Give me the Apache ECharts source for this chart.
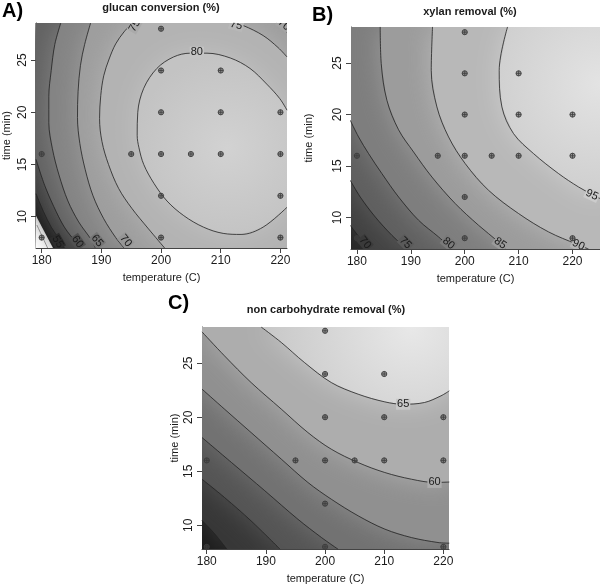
<!DOCTYPE html>
<html>
<head>
<meta charset="utf-8">
<script src="https://cdn.jsdelivr.net/npm/echarts@6.0.0/dist/echarts.min.js"></script>
<style>
  html, body { margin: 0; padding: 0; background: #fff; }
  #chart { width: 600px; height: 586px; }
</style>
</head>
<body>
<div id="chart"></div>
<script>
// tick labels
const tempTicks = [180, 190, 200, 210, 220]
const timeTicks = [10, 15, 20, 25]

// design points [temperature (C), time (min)]
const pointsA = [[200, 28], [200, 24], [210, 24], [200, 20], [210, 20], [220, 20], [180, 16], [195, 16], [200, 16], [205, 16], [210, 16], [220, 16], [200, 12], [220, 12], [200, 8], [220, 8], [180, 8]]
const pointsB = [[200, 28], [200, 24], [210, 24], [200, 20], [210, 20], [220, 20], [180, 16], [195, 16], [200, 16], [205, 16], [210, 16], [220, 16], [200, 12], [200, 8], [220, 8], [180, 8]]
const pointsC = [[200, 28], [200, 24], [210, 24], [200, 20], [210, 20], [220, 20], [180, 16], [195, 16], [200, 16], [205, 16], [210, 16], [220, 16], [200, 12], [200, 8], [220, 8], [180, 8]]

// contour lines, [temperature, time]
// A) glucan conversion
const glucan80 = [[221.1, 20.2], [219.9, 21.3], [217.7, 22.7], [214.9, 24.2], [211.6, 25.2], [207.7, 25.66], [204.9, 25.66], [202.1, 25.3], [199.3, 24.2], [197.1, 22.3], [196.1, 20.0], [196.0, 17.8], [196.3, 16.6], [197.1, 15.0], [198.8, 13.2], [201.0, 11.5], [203.8, 10.1], [207.1, 9.0], [210.4, 8.4], [213.4, 8.3], [217.1, 9.0], [221.1, 10.9]]
const glucan75 = [[195.2, 28.55], [193.8, 27.7], [192.4, 26.55], [191.3, 25.1], [190.4, 23.5], [189.9, 21.6], [189.7, 19.4], [190.1, 17.2], [191.2, 15.0], [192.9, 12.7], [195.1, 10.8], [197.8, 8.9], [200.6, 7.0]]
const glucan75b = [[212.1, 28.55], [213.8, 28.3], [217.1, 27.35], [219.6, 26.2], [221.1, 25.3]]
const glucan70 = [[188.2, 28.55], [187.2, 26.5], [186.5, 24.5], [186.1, 22.0], [186.0, 19.5], [186.4, 17.0], [187.3, 14.5], [188.6, 12.0], [190.4, 9.8], [192.4, 8.0], [193.8, 7.0]]
const glucan70b = [[219.4, 28.55], [221.1, 27.6]]
const glucan65 = [[183.2, 28.55], [182.2, 26.5], [181.6, 24.0], [181.2, 21.5], [181.2, 19.0], [181.8, 16.5], [182.9, 14.0], [184.4, 11.5], [186.2, 9.5], [188.3, 7.8], [189.0, 7.0]]
const glucan60 = [[179.05, 15.5], [180.5, 13.0], [182.0, 11.0], [183.8, 9.0], [185.8, 7.5], [186.5, 7.0]]
const glucan55 = [[179.05, 12.2], [180.3, 10.5], [181.6, 9.0], [183.0, 7.8], [183.8, 7.0]]
const glucan50 = [[179.2, 9.2], [181.0, 7.0]]
const glucanLow = [[179.05, 10.1], [181.9, 7.0], [179.05, 7.0]]

// B) xylan removal
const xylan70 = [[178.76, 9.25], [180.3, 8.18], [182.16, 6.95]]
const xylan75 = [[178.76, 13.62], [180.61, 12.0], [183.4, 10.06], [186.49, 8.28], [189.27, 6.95]]
const xylan80 = [[178.76, 19.45], [180.3, 17.83], [182.16, 16.21], [184.63, 14.27], [187.73, 12.0], [191.44, 9.74], [195.15, 8.12], [197.62, 6.95]]
const xylan85 = [[184.32, 28.51], [184.51, 24.95], [185.56, 21.39], [187.73, 18.52], [190.51, 16.37], [193.91, 13.94], [198.24, 11.36], [202.57, 9.25], [206.28, 7.63], [207.51, 6.95]]
const xylan90 = [[194.03, 28.51], [193.79, 24.3], [194.84, 20.74], [197.0, 17.83], [200.09, 15.24], [204.42, 12.65], [209.99, 10.39], [215.55, 8.61], [220.81, 7.41], [222.97, 6.95]]
const xylan95 = [[207.95, 28.51], [206.4, 24.3], [206.9, 20.74], [209.06, 18.15], [212.77, 16.21], [217.41, 14.27], [221.12, 12.97], [223.59, 12.26], [225.14, 11.84]]

// C) non carbohydrate removal
const nonCarb65 = [[189.2, 28.35], [192.6, 26.92], [196.5, 25.07], [201.05, 23.21], [205.6, 22.13], [210.1, 21.42], [213.2, 21.2], [216.8, 21.36], [219.6, 21.98], [221.0, 22.44]]
const nonCarb60 = [[179.2, 27.9], [183.0, 25.68], [187.5, 23.21], [192.6, 20.75], [197.1, 18.58], [201.05, 17.04], [205.6, 15.8], [210.1, 14.88], [214.6, 14.26], [218.5, 13.96], [221.0, 14.0]]
const nonCarb55 = [[179.2, 22.6], [183.0, 20.75], [187.5, 18.58], [192.6, 16.12], [197.1, 13.96], [201.05, 12.41], [205.6, 10.87], [210.1, 9.64], [214.6, 8.86], [219.1, 8.4], [221.0, 8.34]]
const nonCarb50 = [[179.2, 18.12], [184.2, 15.8], [189.8, 13.2], [195.4, 10.56], [199.4, 8.86], [202.2, 7.78]]
const nonCarb45 = [[179.2, 14.26], [183.0, 12.57], [187.5, 10.4], [192.4, 7.78]]
const nonCarb40 = [[179.2, 10.44], [181.4, 9.17], [183.4, 7.78]]

// contour labels [temperature, time, text]
const labelsA = [[206.0, 25.76, '80'], [195.6, 28.3, '75'], [212.6, 28.35, '75'], [220.6, 28.4, '70'], [182.7, 7.6, '55'], [186.0, 7.6, '60'], [189.3, 7.7, '65'], [194.1, 7.7, '70']]
const labelsB = [[181.5, 7.55, '70'], [189.0, 7.55, '75'], [197.0, 7.5, '80'], [206.6, 7.5, '85'], [221.1, 7.35, '90'], [223.6, 12.2, '95']]
const labelsC = [[213.2, 21.2, '65'], [218.5, 13.96, '60']]

const panels = [
  {
    title: 'glucan conversion (%)', tag: 'A)', titleX: 161, titleY: 8, tagX: 2, tagY: 11,
    grid: { left: 35, top: 23, width: 252, height: 225 },
    x: [179.05, 221.1], y: [7.0, 28.55], yNameGap: 24,
    points: pointsA,
    lines: [glucan80, glucan75, glucan75b, glucan70, glucan70b, glucan65, glucan60, glucan55],
    extraLines: [glucan50],
    labels: labelsA,
    labelRot: [0, 60, -15, -40, -60, -55, -50, -50],
    labelBg: ['#c4c4c4', '#aaaaaa', '#b8b8b8', '#a4a4a4', '#2c2c2c', '#505050', '#767676', '#969696'],
    bands: function (c) {
      return [
        { color: '#1a1a1a', ring: [c.bl, c.br, c.tr, c.tl] },
        { color: '#ffffff', ring: glucanLow, flat: true },
        { color: '#3b3b3b', ring: glucan55.concat([c.br, c.tr, c.tl]) },
        { color: '#626262', ring: glucan60.concat([c.br, c.tr, c.tl]) },
        { color: '#848484', ring: glucan65.concat([c.br, c.tr]) },
        { color: '#9e9e9e', ring: glucan70.concat([c.br], glucan70b.slice().reverse()) },
        { color: '#b3b3b3', ring: glucan75.concat([c.br], glucan75b.slice().reverse()) },
        { color: '#c3c3c3', ring: glucan80, inner: { x: 0.6, y: 0.52, r: 0.62, from: '#d2d2d2' } }
      ]
    }
  },
  {
    title: 'xylan removal (%)', tag: 'B)', titleX: 470, titleY: 12, tagX: 312, tagY: 15,
    grid: { left: 351, top: 27, width: 249, height: 222 },
    x: [178.9, 225.1], y: [6.95, 28.5], yNameGap: 37,
    points: pointsB,
    lines: [xylan70, xylan75, xylan80, xylan85, xylan90, xylan95],
    extraLines: [],
    labels: labelsB,
    labelRot: [-50, -45, -40, -35, -25, -25],
    labelBg: ['#3a3a3a', '#5a5a5a', '#7a7a7a', '#9a9a9a', '#b6b6b6', '#cccccc'],
    bands: function (c) {
      return [
        { color: '#242424', ring: [c.bl, c.br, c.tr, c.tl] },
        { color: '#424242', ring: xylan70.concat([c.br, c.tr, c.tl]) },
        { color: '#606060', ring: xylan75.concat([c.br, c.tr, c.tl]) },
        { color: '#7e7e7e', ring: xylan80.concat([c.br, c.tr, c.tl]) },
        { color: '#9c9c9c', ring: xylan85.concat([c.br, c.tr]) },
        { color: '#b8b8b8', ring: xylan90.concat([c.br, c.tr]) },
        { color: '#cecece', ring: xylan95.concat([c.tr]), inner: { x: 1.0, y: 0.33, r: 1.15, from: '#e3e3e3' } }
      ]
    }
  },
  {
    title: 'non carbohydrate removal (%)', tag: 'C)', titleX: 326, titleY: 310, tagX: 168, tagY: 303,
    grid: { left: 202, top: 327, width: 247, height: 222 },
    x: [179.2, 220.95], y: [7.8, 28.35], yNameGap: 22,
    points: pointsC,
    lines: [nonCarb65, nonCarb60, nonCarb55, nonCarb50, nonCarb45, nonCarb40],
    extraLines: [],
    labels: labelsC,
    labelRot: [0, 0],
    labelBg: ['#c8c8c8', '#acacac'],
    bands: function (c) {
      return [
        { color: '#1c1c1c', ring: [c.bl, c.br, c.tr, c.tl] },
        { color: '#383838', ring: nonCarb40.concat([c.br, c.tr, c.tl]) },
        { color: '#555555', ring: nonCarb45.concat([c.br, c.tr, c.tl]) },
        { color: '#727272', ring: nonCarb50.concat([c.br, c.tr, c.tl]) },
        { color: '#909090', ring: nonCarb55.concat([c.tr, c.tl]) },
        { color: '#adadad', ring: nonCarb60.concat([c.tr, c.tl]) },
        { color: '#c8c8c8', ring: nonCarb65.concat([c.tr]), inner: { x: 0.8, y: 0.0, r: 1.9, from: '#e8e8e8' } }
      ]
    }
  }
]

const textColor = '#1a1a1a'
const fontName = '"Liberation Sans", Arial, sans-serif'

const grids = []
const xAxes = []
const yAxes = []
const series = []
const graphics = []

panels.forEach((p, i) => {
  const corners = {
    bl: [p.x[0], p.y[0]], br: [p.x[1], p.y[0]],
    tr: [p.x[1], p.y[1]], tl: [p.x[0], p.y[1]]
  }
  grids.push(Object.assign({ containLabel: false }, p.grid))
  xAxes.push({
    type: 'value', gridIndex: i, min: p.x[0], max: p.x[1],
    name: 'temperature (C)', nameLocation: 'middle', nameGap: 24,
    nameTextStyle: { color: textColor, fontSize: 11, fontFamily: fontName },
    axisLine: { show: true, lineStyle: { color: '#444', width: 1 } },
    axisTick: { show: true, length: 5, customValues: tempTicks, lineStyle: { color: '#444' } },
    axisLabel: { customValues: tempTicks, color: textColor, fontSize: 12, fontFamily: fontName, margin: 7 },
    splitLine: { show: false }
  })
  yAxes.push({
    type: 'value', gridIndex: i, min: p.y[0], max: p.y[1],
    name: 'time (min)', nameLocation: 'middle', nameGap: p.yNameGap,
    nameTextStyle: { color: textColor, fontSize: 11, fontFamily: fontName },
    axisLine: { show: true, lineStyle: { color: '#444', width: 1 } },
    axisTick: { show: true, length: 5, customValues: timeTicks, lineStyle: { color: '#444' } },
    axisLabel: { customValues: timeTicks, rotate: 90, color: textColor, fontSize: 12, fontFamily: fontName, margin: 7 },
    splitLine: { show: false }
  })

  // filled contour bands; the soft shadow of each band blends it into the one below
  const bands = p.bands(corners)
  series.push({
    type: 'custom', xAxisIndex: i, yAxisIndex: i, clip: true, silent: true, z: 1,
    data: [[p.x[0], p.y[0]]],
    renderItem: function (params, api) {
      return {
        type: 'group',
        children: bands.map((b) => {
          let fill = b.color
          if (b.inner) {
            fill = {
              type: 'radial', x: b.inner.x, y: b.inner.y, r: b.inner.r,
              colorStops: [{ offset: 0, color: b.inner.from }, { offset: 1, color: b.color }]
            }
          }
          return {
            type: 'polygon',
            shape: { points: b.ring.map((pt) => api.coord(pt)) },
            style: {
              fill: fill, stroke: null,
              shadowBlur: b.flat ? 0 : 26, shadowColor: b.flat ? 'transparent' : b.color
            }
          }
        })
      }
    }
  })

  // contour lines
  p.lines.concat(p.extraLines).forEach((line, k) => {
    series.push({
      type: 'line', xAxisIndex: i, yAxisIndex: i, data: line,
      symbol: 'none', smooth: 0.35, silent: true, z: 2, clip: true,
      lineStyle: { color: k >= p.lines.length ? '#777' : '#222', width: 0.8 }
    })
  })

  // contour labels
  series.push({
    type: 'custom', xAxisIndex: i, yAxisIndex: i, clip: true, silent: true, z: 3,
    data: p.labels.map((l) => [l[0], l[1]]),
    renderItem: function (params, api) {
      const pos = api.coord([api.value(0), api.value(1)])
      const idx = params.dataIndex
      return {
        type: 'text', x: pos[0], y: pos[1],
        rotation: p.labelRot[idx] * Math.PI / 180,
        style: {
          text: p.labels[idx][2], fill: textColor,
          font: '11px ' + fontName, align: 'center', verticalAlign: 'middle',
          backgroundColor: p.labelBg[idx], padding: [0, 1]
        }
      }
    }
  })

  // design points
  series.push({
    type: 'custom', xAxisIndex: i, yAxisIndex: i, clip: false, silent: true, z: 4,
    data: p.points,
    renderItem: function (params, api) {
      const c = api.coord([api.value(0), api.value(1)])
      const r = 2.6
      return {
        type: 'group',
        children: [
          { type: 'circle', shape: { cx: c[0], cy: c[1], r: r }, style: { fill: 'rgba(70,70,70,0.45)', stroke: '#3c3c3c', lineWidth: 0.9 } },
          { type: 'line', shape: { x1: c[0] - r, y1: c[1], x2: c[0] + r, y2: c[1] }, style: { stroke: '#3c3c3c', lineWidth: 0.8 } },
          { type: 'line', shape: { x1: c[0], y1: c[1] - r, x2: c[0], y2: c[1] + r }, style: { stroke: '#3c3c3c', lineWidth: 0.8 } }
        ]
      }
    }
  })

  graphics.push({
    type: 'text', x: p.titleX, y: p.titleY,
    style: { text: p.title, fill: textColor, font: 'bold 11px ' + fontName, align: 'center', verticalAlign: 'middle' }
  })
  graphics.push({
    type: 'text', x: p.tagX, y: p.tagY,
    style: { text: p.tag, fill: '#000', font: 'bold 20px ' + fontName, align: 'left', verticalAlign: 'middle' }
  })
})

const chart = echarts.init(document.getElementById('chart'))
chart.setOption({
  animation: false,
  backgroundColor: '#fff',
  grid: grids,
  xAxis: xAxes,
  yAxis: yAxes,
  series: series,
  graphic: graphics
})
</script>
</body>
</html>
